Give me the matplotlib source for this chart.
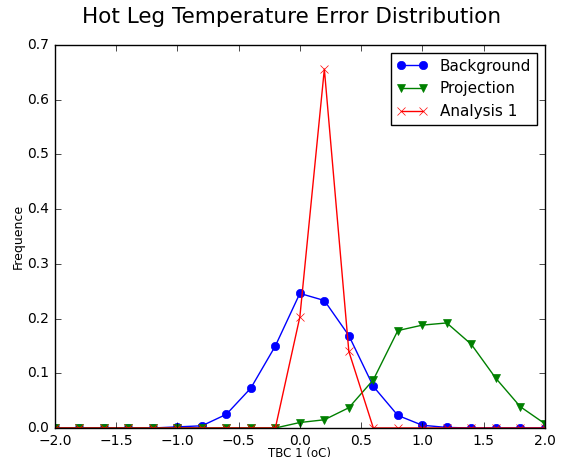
import numpy as np
import matplotlib
matplotlib.use("Agg")
import matplotlib.pyplot as plt

# ------------------------------------------------------------------------
x = [-2.0, -1.8, -1.6, -1.4, -1.2, -1.0, -0.8, -0.6, -0.4, -0.2, 0.0,
     0.2, 0.4, 0.6, 0.8, 1.0, 1.2, 1.4, 1.6, 1.8, 2.0]
background = [0, 0, 0, 0, 0, 0.002, 0.004, 0.025, 0.073, 0.150, 0.246,
              0.233, 0.169, 0.076, 0.023, 0.005, 0.001, 0, 0, 0, 0]
projection = [0, 0, 0, 0, 0, 0, 0, 0, 0, 0, 0.010,
              0.015, 0.037, 0.088, 0.178, 0.188, 0.192, 0.153, 0.091, 0.039, 0.008]
analysis = [0, 0, 0, 0, 0, 0, 0, 0, 0, 0, 0.203,
            0.656, 0.140, 0, 0, 0, 0, 0, 0, 0, 0]
# ------------------------------------------------------------------------

plt.style.use("classic")
fig = plt.figure(figsize=(5.61, 4.57), dpi=100, facecolor="white")
ax = fig.add_axes([0.098, 0.0635, 0.873, 0.838])

ax.plot(x, background, "b-o", lw=1, ms=6, mec="b", label="Background")
ax.plot(x, projection, "g-v", lw=1, ms=6, mec="g", label="Projection")
ax.plot(x, analysis, "r-x", lw=1, ms=6, mec="r", label="Analysis 1")

ax.set_xlim(-2, 2)
ax.set_ylim(0, 0.7)
ax.tick_params(labelsize=10)
ax.set_xlabel("TBC 1 (oC)", fontsize=8.5, labelpad=-0.5)
ax.set_ylabel("Frequence", fontsize=9, labelpad=2)
fig.text(0.52, 0.962, "Hot Leg Temperature Error Distribution",
         fontsize=15.5, ha="center", va="center")
ax.legend(loc="upper right", fontsize=11, numpoints=2, fancybox=False)

fig.savefig("out.png", dpi=100, facecolor="white")
